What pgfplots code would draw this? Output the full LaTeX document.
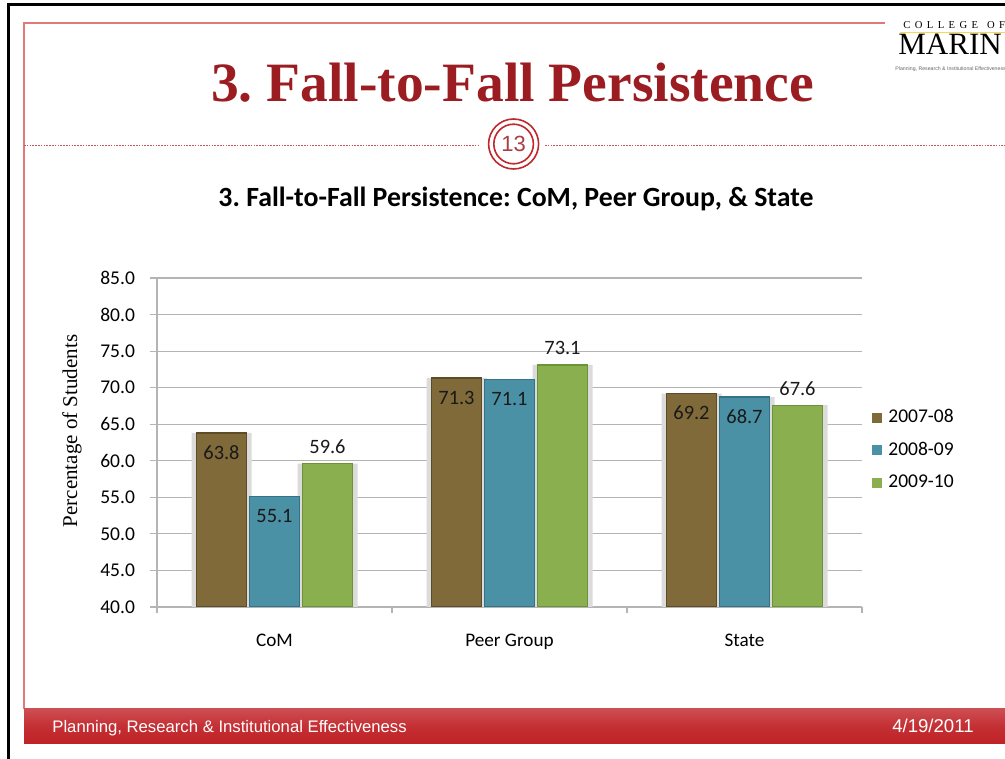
\documentclass[border=0pt]{standalone}
\usepackage{pgfplots}
\pgfplotsset{compat=1.18}
\usepackage{fontspec}
\setmainfont{Carlito}
\newfontfamily\seriffont{Liberation Serif}
\newfontfamily\arialfont{Liberation Sans}
\frenchspacing
\definecolor{cBrown}{HTML}{806A3A}
\definecolor{cBrownD}{HTML}{5E4C26}
\definecolor{cBlue}{HTML}{4B91A5}
\definecolor{cBlueD}{HTML}{327387}
\definecolor{cGreen}{HTML}{8AAF4E}
\definecolor{cGreenD}{HTML}{6C9436}
\definecolor{titleRed}{HTML}{9B1D22}
\definecolor{frameRed}{HTML}{E07A7A}
\definecolor{footRed}{HTML}{C42F33}
\definecolor{footRedD}{HTML}{BE2226}
\definecolor{circRed}{HTML}{C0282C}
\definecolor{gridGray}{HTML}{B4B4B4}
\begin{document}
\begin{tikzpicture}[x=1pt,y=1pt]
\useasboundingbox (0,0) rectangle (502.5,379.5);
\fill[white] (0,0) rectangle (502.5,379.5);
% outer black frame
\draw[black, line width=1.5pt] (4,-2) -- (4,377) -- (505,377);
% thin red frame
\draw[frameRed, line width=0.6pt] (12,25) -- (12,368) -- (442.5,368);
% dotted line
\draw[circRed!80, line width=0.5pt, dash pattern=on 0.8pt off 0.6pt] (12,306.5) -- (239,306.5);
\draw[circRed!80, line width=0.5pt, dash pattern=on 0.8pt off 0.6pt] (272.5,306.5) -- (505,306.5);
% circle 13
\draw[circRed, line width=0.8pt] (256.8,307.5) circle (12.5);
\draw[circRed, line width=0.8pt] (256.8,307.5) circle (9.9);
\node[text=titleRed!85, font=\arialfont\fontsize{11}{12}\selectfont] at (256.8,307.5) {13};
% slide title
\node[anchor=base, text=titleRed, font=\seriffont\bfseries\fontsize{27.75}{30}\selectfont] at (256.25,328.5) {3. Fall-to-Fall Persistence};
% chart title
\node[anchor=base, text=black, font=\bfseries\fontsize{13.9}{15}\selectfont] at (258,276) {3. Fall-to-Fall Persistence: CoM, Peer Group, \& State};
% logo
\node[anchor=base west, inner sep=0pt, font=\seriffont\fontsize{5.3}{6}\selectfont] at (451.5,365) {C\hskip2.2pt O\hskip2.2pt L\hskip2.2pt L\hskip2.2pt E\hskip2.2pt G\hskip2.2pt E\hskip4.5pt O\hskip2.2pt F};
\draw[yellow!60!orange!70, line width=0.5pt] (450,363) -- (505,363);
\node[anchor=base west, inner sep=0pt, font=\seriffont\fontsize{15.5}{17}\selectfont] at (449,352) {MARIN};
\node[anchor=base west, inner sep=0pt, text=black!60, font=\arialfont\fontsize{2.6}{3}\selectfont] at (447.5,344) {Planning, Research \& Institutional Effectiveness};
% footer
\draw[frameRed!60, line width=0.5pt] (12,25.3) -- (505,25.3);
\shade[top color=footRed!85!white, bottom color=footRedD, middle color=footRed] (12,7.5) rectangle (505,25);
\node[anchor=base west, inner sep=0pt, text=white, font=\arialfont\fontsize{8.35}{10}\selectfont] at (26,13) {Planning, Research \& Institutional Effectiveness};
\node[anchor=base east, inner sep=0pt, text=white, font=\arialfont\fontsize{9.3}{10}\selectfont] at (487,13) {4/19/2011};
% y label
\node[rotate=90, font=\seriffont\fontsize{10.5}{12}\selectfont] at (36,164) {Percentage of Students};
\coordinate (O) at (78.5pt,76pt);
\begin{axis}[
  at={(O)}, anchor=south west,
  scale only axis, width=352.5pt, height=164.5pt,
  xmin=-0.5, xmax=2.5, ymin=40, ymax=85,
  ytick={40,45,...,85},
  xtick={0,1,2}, xticklabels={CoM, Peer Group, State},
  minor xtick={-0.5,0.5,1.5,2.5},
  axis x line*=bottom, axis y line*=left,
  axis line style={gridGray, line width=0.6pt},
  tick align=outside,
  major tick length=3.5pt, minor tick length=3pt,
  major x tick style={draw=none},
  minor x tick style={gridGray, line width=0.6pt},
  major y tick style={gridGray, line width=0.6pt},
  ymajorgrids, grid style={gridGray, line width=0.6pt},
  /pgf/number format/assume math mode=true,
  yticklabel style={/pgf/number format/.cd, fixed, fixed zerofill, precision=1, /tikz/.cd, xshift=-4pt},
  ticklabel style={font=\fontsize{9.75}{11}\selectfont, text=black},
  xticklabel style={font=\fontsize{9.6}{11}\selectfont, yshift=-6.5pt},
  ybar, bar width=25pt,
  clip=true,
  legend style={at={(1,0.604)}, anchor=north west, xshift=5pt, draw=none, fill=none, inner sep=0pt,
    font=\fontsize{9.75}{11}\selectfont, row sep=7.25pt,
    nodes={inner sep=0pt, text height=7pt, text depth=2pt},
    /tikz/every odd column/.append style={column sep=3pt}},
  legend cell align=left,
  legend image code/.code={\path[#1, draw=none] (0pt,-2.5pt) rectangle (5pt,2.5pt);},
  nodes near coords style={font=\fontsize{10.2}{11}\selectfont, text=black!90},
  point meta=y,
  nodes near coords={\pgfmathprintnumber[fixed, fixed zerofill, precision=1]{\pgfplotspointmeta}},
]
% shadows
\addplot[ybar, bar width=30pt, bar shift=-26.5pt, fill=black!14, draw=none, forget plot, nodes near coords={}] coordinates {(0,63.8) (1,71.3) (2,69.2)};
\addplot[ybar, bar width=30pt, bar shift=0pt, fill=black!14, draw=none, forget plot, nodes near coords={}] coordinates {(0,55.1) (1,71.1) (2,68.7)};
\addplot[ybar, bar width=30pt, bar shift=26.5pt, fill=black!14, draw=none, forget plot, nodes near coords={}] coordinates {(0,59.6) (1,73.1) (2,67.6)};
% bars
\addplot[ybar, fill=cBrown, draw=cBrownD, line width=0.7pt, bar shift=-26.5pt,
  every node near coord/.append style={anchor=center, yshift=-9.75pt}] coordinates {(0,63.8) (1,71.3) (2,69.2)};
\addplot[ybar, fill=cBlue, draw=cBlueD, line width=0.7pt, bar shift=0pt,
  every node near coord/.append style={anchor=center, yshift=-9.75pt}] coordinates {(0,55.1) (1,71.1) (2,68.7)};
\addplot[ybar, fill=cGreen, draw=cGreenD, line width=0.7pt, bar shift=26.5pt,
  every node near coord/.append style={anchor=center, yshift=8.4pt}] coordinates {(0,59.6) (1,73.1) (2,67.6)};
\legend{2007-08, 2008-09, 2009-10}
\end{axis}
\end{tikzpicture}
\end{document}
